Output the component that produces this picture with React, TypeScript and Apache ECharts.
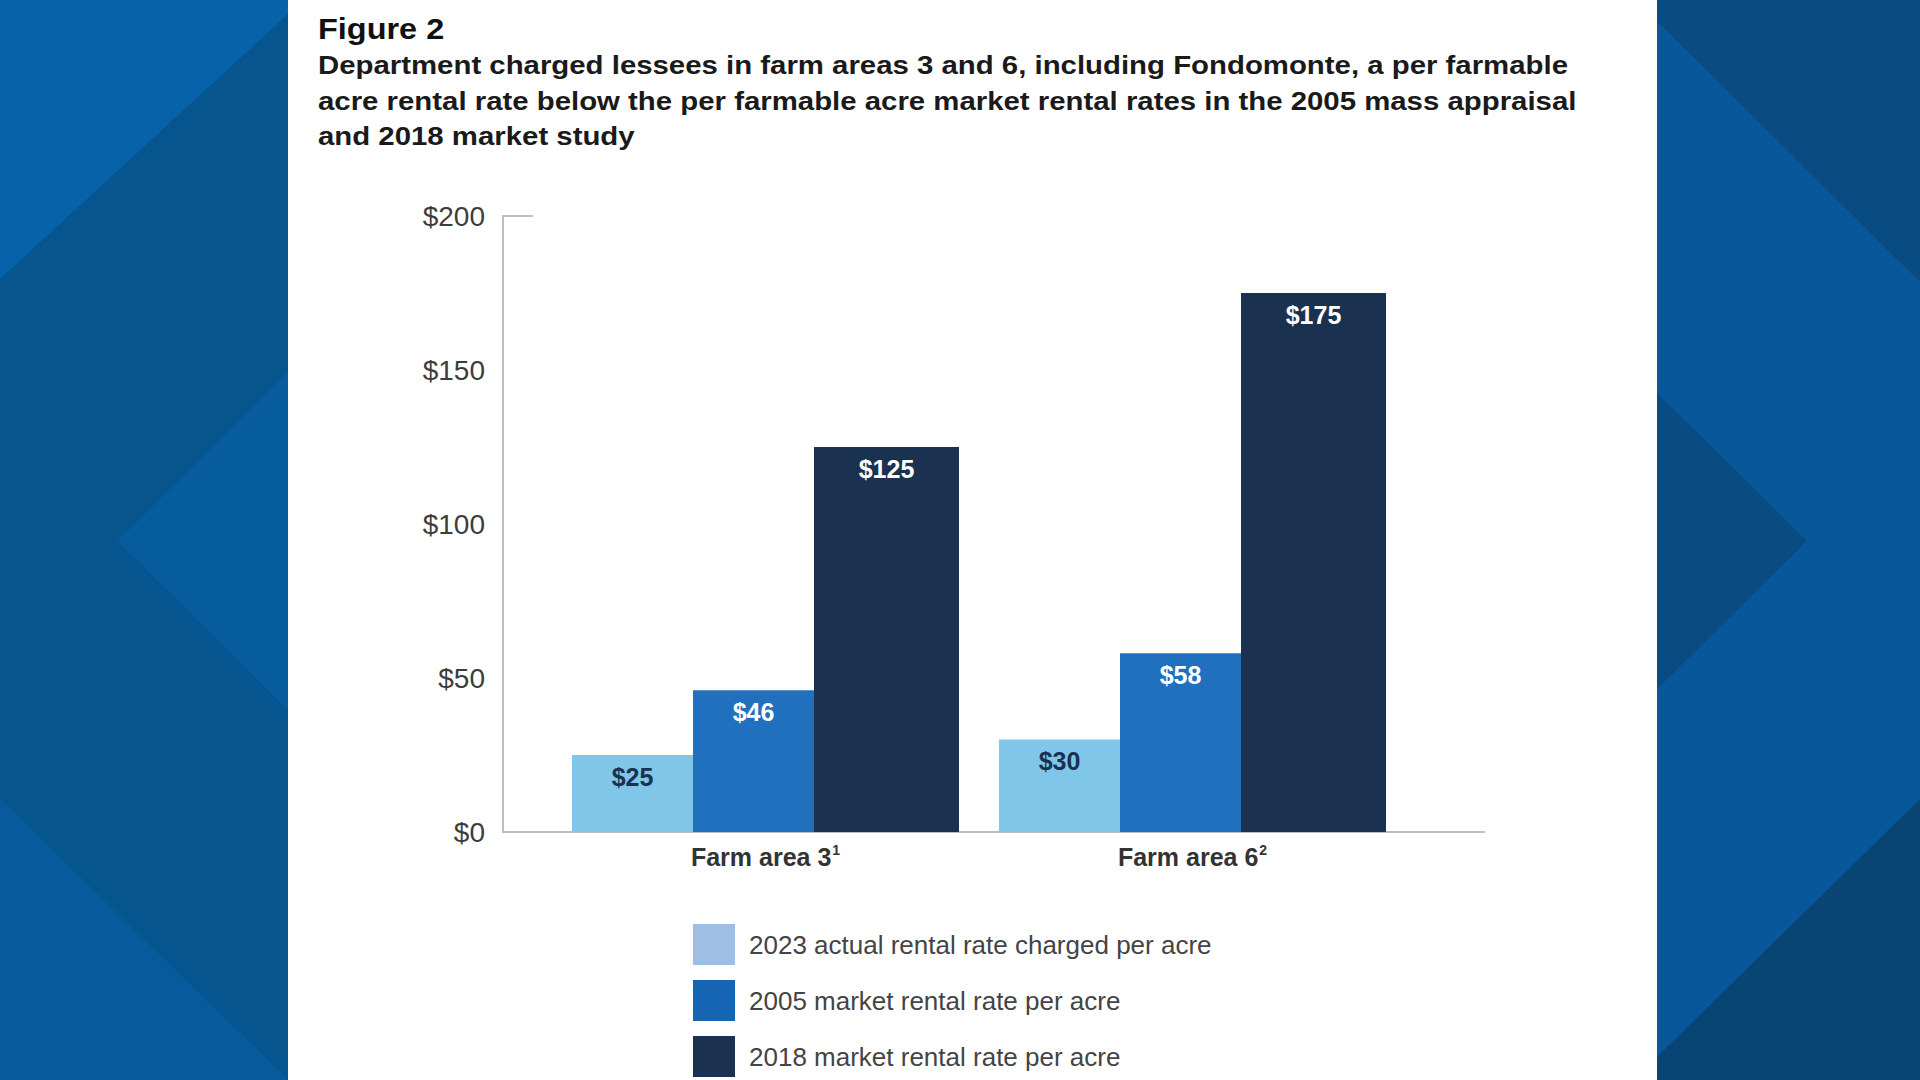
import React, { useEffect, useRef } from 'react';
import * as echarts from 'echarts';

const FONT = '"Liberation Sans", Arial, Helvetica, sans-serif';

const categories = ['Farm area 3', 'Farm area 6'];
const footnotes = ['1', '2'];
const seriesNames = [
  '2023 actual rental rate charged per acre',
  '2005 market rental rate per acre',
  '2018 market rental rate per acre',
];
const actual2023 = [25, 30];
const market2005 = [46, 58];
const market2018 = [125, 175];
const yMin = 0;
const yMax = 200;
const yStep = 50;

const titleText = 'Figure 2';
const subtitleText =
  'Department charged lessees in farm areas 3 and 6, including Fondomonte, a per farmable\n' +
  'acre rental rate below the per farmable acre market rental rates in the 2005 mass appraisal\n' +
  'and 2018 market study';

const barColors = ['#7fc6e9', '#2170bd', '#1b3150'];
const legendColors = ['#a0bee4', '#1565b4', '#1b3150'];
const labelColors = ['#1b3150', '#ffffff', '#ffffff'];
const barWidths = [121, 121, 145];

export default function App() {
  const ref = useRef<HTMLDivElement>(null);

  useEffect(() => {
    if (!ref.current) return;
    const chart = echarts.init(ref.current, null, { renderer: 'svg' });
    const seriesData = [actual2023, market2005, market2018];

    const bg = [
      // left panel
      { type: 'rect', shape: { x: 0, y: 0, width: 288, height: 1080 }, style: { fill: '#0762aa' } },
      { type: 'polygon', shape: { points: [[0, 279], [288, 14], [288, 372], [118, 541], [288, 710], [288, 1080], [0, 799]] }, style: { fill: '#06558f' } },
      { type: 'polygon', shape: { points: [[118, 541], [288, 372], [288, 710]] }, style: { fill: '#075c9e' } },
      { type: 'polygon', shape: { points: [[0, 799], [288, 1080], [0, 1080]] }, style: { fill: '#075a9b' } },
      // right panel
      { type: 'rect', shape: { x: 1657, y: 0, width: 263, height: 1080 }, style: { fill: '#07579a' } },
      { type: 'polygon', shape: { points: [[1657, 0], [1920, 0], [1920, 282], [1657, 21]] }, style: { fill: '#084c82' } },
      { type: 'polygon', shape: { points: [[1657, 393], [1807, 541], [1657, 689]] }, style: { fill: '#084c82' } },
      { type: 'polygon', shape: { points: [[1657, 1057], [1920, 799], [1920, 1080], [1657, 1080]] }, style: { fill: '#084575' } },
      // white panel
      { type: 'rect', shape: { x: 288, y: 0, width: 1369, height: 1080 }, style: { fill: '#ffffff' } },
    ].map((e) => ({ ...e, z: -100, silent: true }));

    const texts = [
      {
        type: 'text',
        x: 318,
        y: 12,
        scaleX: 1.12,
        z: 10,
        silent: true,
        style: {
          text: titleText,
          fontFamily: FONT,
          fontSize: 29,
          fontWeight: 'bold',
          fill: '#111111',
          lineHeight: 34,
          verticalAlign: 'top',
        },
      },
      {
        type: 'text',
        x: 318,
        y: 48,
        scaleX: 1.175,
        z: 10,
        silent: true,
        style: {
          text: subtitleText,
          fontFamily: FONT,
          fontSize: 25,
          fontWeight: 'bold',
          fill: '#1a1a1a',
          lineHeight: 35.5,
          verticalAlign: 'top',
        },
      },
    ];

    const option: any = {
      animation: false,
      backgroundColor: '#ffffff',
      graphic: [...bg, ...texts],
      legend: {
        orient: 'vertical',
        left: 693,
        top: 924,
        padding: 0,
        itemWidth: 42,
        itemHeight: 41,
        itemGap: 15,
        icon: 'rect',
        selectedMode: false,
        textStyle: { fontFamily: FONT, fontSize: 26, color: '#444444', padding: [0, 0, 0, 9] },
        data: seriesNames.map((n, i) => ({ name: n, itemStyle: { color: legendColors[i] } })),
      },
      grid: [
        { left: 503, top: 216, width: 981, height: 616 },
        { left: 552, top: 216, width: 854, height: 616 },
      ],
      xAxis: [
        {
          gridIndex: 0,
          type: 'value',
          min: 0,
          max: 1,
          axisLine: { show: true, lineStyle: { color: '#bdbdbd', width: 2 } },
          axisTick: { show: false },
          axisLabel: { show: false },
          splitLine: { show: false },
        },
        {
          gridIndex: 1,
          type: 'category',
          data: categories,
          axisLine: { show: false },
          axisTick: { show: false },
          axisLabel: {
            margin: 11,
            formatter: (v: string, i: number) => `{a|${v}}{s|${footnotes[i]}}`,
            rich: {
              a: { fontFamily: FONT, fontSize: 25, fontWeight: 'bold', color: '#333333', lineHeight: 28 },
              s: { fontFamily: FONT, fontSize: 14, fontWeight: 'bold', color: '#333333', verticalAlign: 'top', padding: [0, 0, 0, 1] },
            },
          },
        },
      ],
      yAxis: [
        {
          gridIndex: 0,
          type: 'value',
          position: 'left',
          min: yMin,
          max: yMax,
          interval: yStep,
          axisLine: { show: true, lineStyle: { color: '#bdbdbd', width: 2 } },
          axisTick: { show: false },
          splitLine: { show: false },
          axisLabel: {
            margin: 18,
            fontFamily: FONT,
            fontSize: 28,
            color: '#3d3d3d',
            formatter: (v: number) => '$' + v,
          },
        },
        {
          gridIndex: 0,
          type: 'value',
          position: 'left',
          min: yMin,
          max: yMax,
          interval: yMax,
          axisLine: { show: false },
          axisTick: { show: true, inside: true, length: 30, lineStyle: { color: '#bdbdbd', width: 2 } },
          axisLabel: { show: false },
          splitLine: { show: false },
        },
        {
          gridIndex: 1,
          type: 'value',
          min: yMin,
          max: yMax,
          show: false,
        },
      ],
      series: seriesNames.map((name, i) => ({
        name,
        type: 'bar',
        xAxisIndex: 1,
        yAxisIndex: 2,
        data: seriesData[i],
        barWidth: barWidths[i],
        barGap: '0%',
        itemStyle: { color: barColors[i] },
        label: {
          show: true,
          position: 'insideTop',
          distance: 9,
          fontFamily: FONT,
          fontSize: 25,
          fontWeight: 'bold',
          color: labelColors[i],
          formatter: (p: any) => '$' + p.value,
        },
      })),
    };

    chart.setOption(option);
    return () => chart.dispose();
  }, []);

  return (
    <div
      ref={ref}
      style={{ position: 'fixed', left: 0, top: 0, width: 1920, height: 1080 }}
    />
  );
}
